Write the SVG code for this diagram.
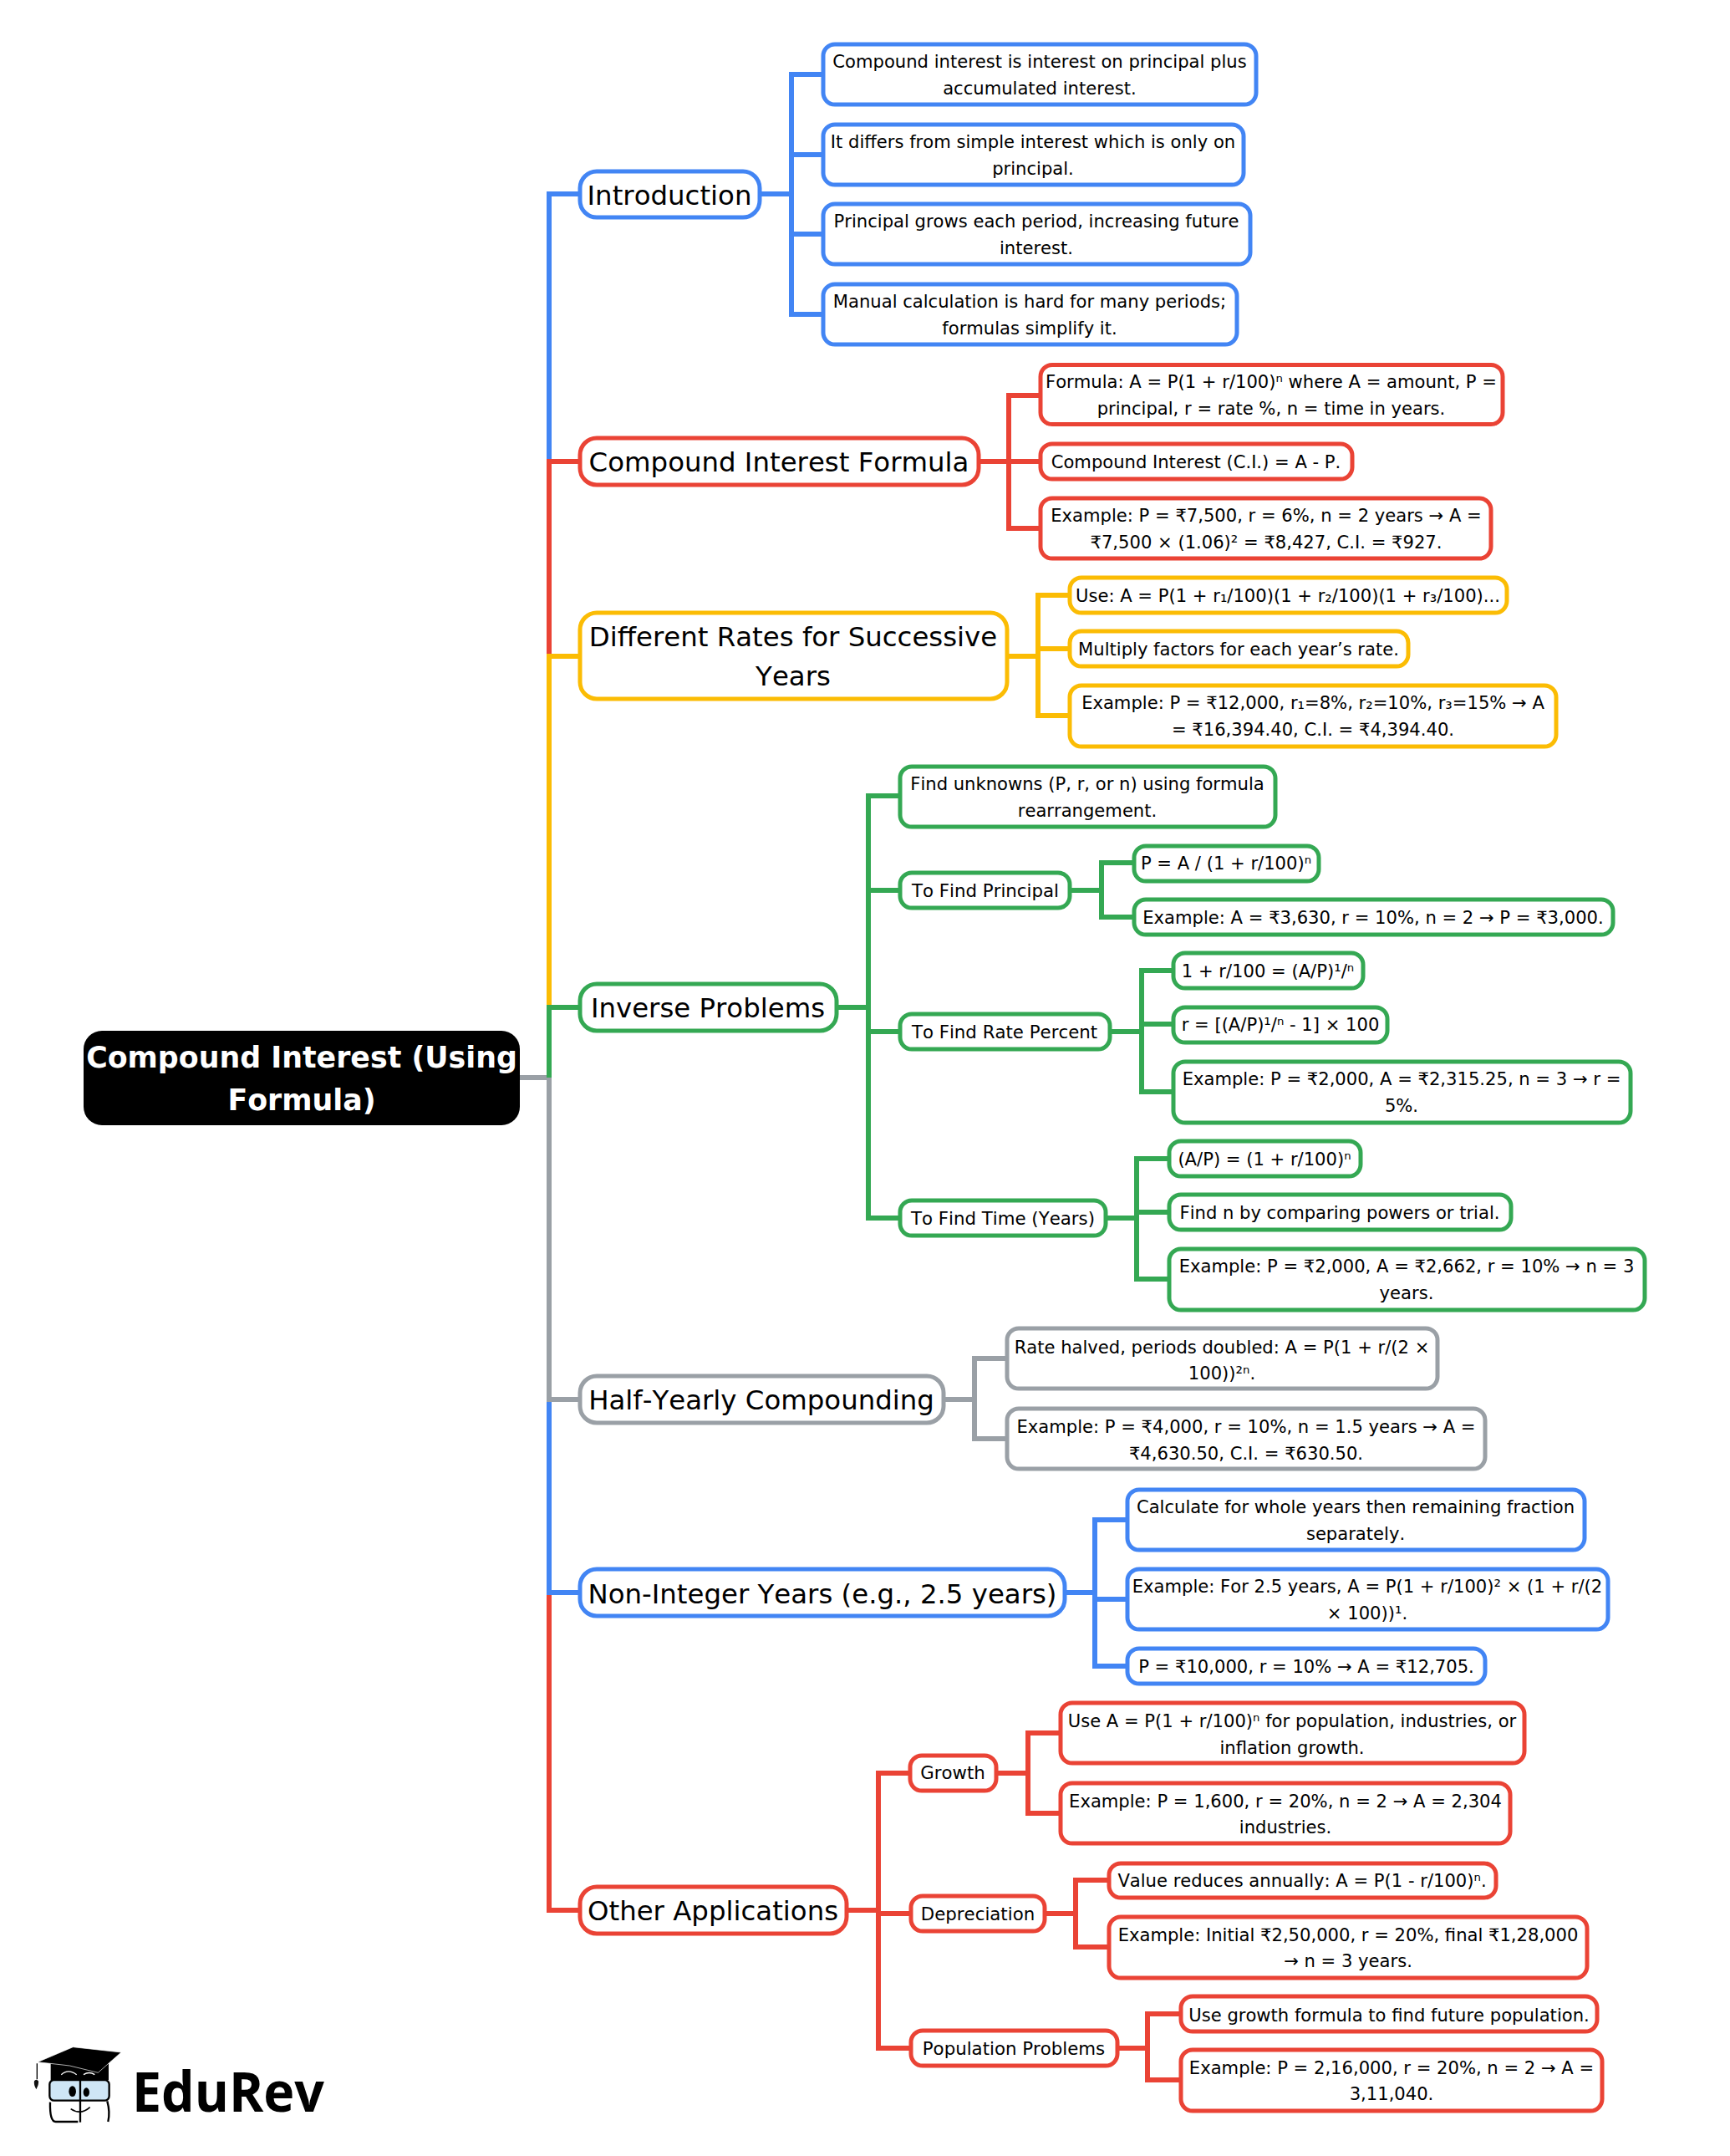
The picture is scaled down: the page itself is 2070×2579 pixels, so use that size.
<svg xmlns="http://www.w3.org/2000/svg" width="2070" height="2579" viewBox="0 0 2070 2579">
<style>
text{font-family:"DejaVu Sans",sans-serif;fill:#000;text-anchor:middle;font-kerning:none}
.r{fill:#fff;stroke-width:5}
.l1{font-size:32.4px}.l2{font-size:21.1px}.l3{font-size:21.3px}
.c{fill:none;stroke-width:6}
.b{stroke:#4285F4}.e{stroke:#EA4335}.y{stroke:#FBBC04}.g{stroke:#34A853}.n{stroke:#9AA0A6}
</style>
<rect width="2070" height="2579" fill="#fff"/>
<g id="connectors">
<path class="c e" d="M622 1289H657V2285H694"/>
<path class="c b" d="M657 1674V1905H694"/>
<path class="c b" d="M657 552V232H694"/>
<path class="c e" d="M657 785V552H694"/>
<path class="c y" d="M657 1205V785H694"/>
<path class="c n" d="M622 1289H657V1674H694"/>
<path class="c g" d="M657 1289V1205H694"/>
<path class="c b" d="M909 232H947M985 89H947V376H985M947 185H985M947 280H985"/>
<path class="c e" d="M1171 552H1207M1245 473H1207V632H1245M1207 552H1245"/>
<path class="c y" d="M1205 785H1242M1278 712H1242V856H1278M1242 776H1278"/>
<path class="c g" d="M1001 1205H1039M1075 952H1039V1457H1075M1039 1065H1075M1039 1234H1075"/>
<path class="c g" d="M1281 1065H1318M1355 1032H1318V1097H1355"/>
<path class="c g" d="M1328 1234H1366M1402 1161H1366V1306H1402M1366 1225H1402"/>
<path class="c g" d="M1323 1457H1360M1397 1386H1360V1530H1397M1360 1450H1397"/>
<path class="c n" d="M1129 1674H1166M1203 1625H1166V1721H1203"/>
<path class="c b" d="M1274 1905H1310M1347 1818H1310V1993H1347M1310 1913H1347"/>
<path class="c e" d="M1013 2285H1051M1088 2121H1051V2450H1088M1051 2289H1088"/>
<path class="c e" d="M1192 2121H1230M1267 2073H1230V2169H1267"/>
<path class="c e" d="M1250 2289H1287M1325 2249H1287V2329H1325"/>
<path class="c e" d="M1337 2450H1373M1411 2409H1373V2488H1411"/>
</g>
<g id="root"><rect x="100" y="1233" width="522" height="113" rx="22" fill="#000"/><text font-size="34.8" font-weight="700" style="fill:#fff" x="361" y="1277">Compound Interest (Using</text><text font-size="34.8" font-weight="700" style="fill:#fff" x="361" y="1328">Formula)</text></g>
<g id="n1"><rect class="r b" x="694" y="205" width="215" height="55" rx="20"/><text class="l1" x="801" y="244.5">Introduction</text></g>
<g id="n1a"><rect class="r b" x="985" y="53" width="518" height="72" rx="14"/><text class="l2" x="1244" y="81">Compound interest is interest on principal plus</text><text class="l2" x="1244" y="112.5">accumulated interest.</text></g>
<g id="n1b"><rect class="r b" x="985" y="149" width="503" height="72" rx="14"/><text class="l2" x="1236" y="177">It differs from simple interest which is only on</text><text class="l2" x="1236" y="208.5">principal.</text></g>
<g id="n1c"><rect class="r b" x="985" y="244" width="511" height="72" rx="14"/><text class="l2" x="1240" y="272">Principal grows each period, increasing future</text><text class="l2" x="1240" y="303.5">interest.</text></g>
<g id="n1d"><rect class="r b" x="985" y="340" width="495" height="72" rx="14"/><text class="l2" x="1232" y="368">Manual calculation is hard for many periods;</text><text class="l2" x="1232" y="399.5">formulas simplify it.</text></g>
<g id="n2"><rect class="r e" x="694" y="524" width="477" height="56" rx="20"/><text class="l1" x="932" y="564">Compound Interest Formula</text></g>
<g id="n2a"><rect class="r e" x="1245" y="436.5" width="553" height="71" rx="14"/><text class="l2" x="1521" y="464">Formula: A = P(1 + r/100)ⁿ where A = amount, P =</text><text class="l2" x="1521" y="495.5">principal, r = rate %, n = time in years.</text></g>
<g id="n2b"><rect class="r e" x="1245" y="531" width="373" height="42" rx="14"/><text class="l2" x="1431" y="560">Compound Interest (C.I.) = A - P.</text></g>
<g id="n2c"><rect class="r e" x="1245" y="596" width="539" height="72" rx="14"/><text class="l2" x="1515" y="624">Example: P = ₹7,500, r = 6%, n = 2 years → A =</text><text class="l2" x="1515" y="655.5">₹7,500 × (1.06)² = ₹8,427, C.I. = ₹927.</text></g>
<g id="n3"><rect class="r y" x="694" y="733" width="511" height="103" rx="20"/><text class="l1" x="949" y="773">Different Rates for Successive</text><text class="l1" x="949" y="819.5">Years</text></g>
<g id="n3a"><rect class="r y" x="1280" y="691" width="523" height="42" rx="14"/><text class="l2" x="1541" y="720">Use: A = P(1 + r₁/100)(1 + r₂/100)(1 + r₃/100)...</text></g>
<g id="n3b"><rect class="r y" x="1280" y="755" width="405" height="42" rx="14"/><text class="l2" x="1482" y="784">Multiply factors for each year’s rate.</text></g>
<g id="n3c"><rect class="r y" x="1280" y="820" width="582" height="73" rx="14"/><text class="l2" x="1571" y="848">Example: P = ₹12,000, r₁=8%, r₂=10%, r₃=15% → A</text><text class="l2" x="1571" y="879.5">= ₹16,394.40, C.I. = ₹4,394.40.</text></g>
<g id="n4"><rect class="r g" x="694" y="1177" width="307" height="56" rx="20"/><text class="l1" x="847" y="1217">Inverse Problems</text></g>
<g id="n4a"><rect class="r g" x="1077" y="917" width="449" height="72" rx="14"/><text class="l2" x="1301" y="945">Find unknowns (P, r, or n) using formula</text><text class="l2" x="1301" y="976.5">rearrangement.</text></g>
<g id="n4b"><rect class="r g" x="1077" y="1044" width="203" height="42" rx="14"/><text class="l3" x="1179" y="1072.5">To Find Principal</text></g>
<g id="n4b1"><rect class="r g" x="1357" y="1012" width="221" height="42" rx="14"/><text class="l2" x="1467" y="1039.5">P = A / (1 + r/100)ⁿ</text></g>
<g id="n4b2"><rect class="r g" x="1357" y="1076" width="573" height="42" rx="14"/><text class="l2" x="1643" y="1104.5">Example: A = ₹3,630, r = 10%, n = 2 → P = ₹3,000.</text></g>
<g id="n4c"><rect class="r g" x="1077" y="1213" width="251" height="42" rx="14"/><text class="l3" x="1202" y="1241.5">To Find Rate Percent</text></g>
<g id="n4c1"><rect class="r g" x="1404" y="1140" width="227" height="42" rx="14"/><text class="l2" x="1517" y="1168.5">1 + r/100 = (A/P)¹/ⁿ</text></g>
<g id="n4c2"><rect class="r g" x="1404" y="1205" width="256" height="42" rx="14"/><text class="l2" x="1532" y="1233">r = [(A/P)¹/ⁿ - 1] × 100</text></g>
<g id="n4c3"><rect class="r g" x="1404" y="1270" width="547" height="73" rx="14"/><text class="l2" x="1677" y="1298">Example: P = ₹2,000, A = ₹2,315.25, n = 3 → r =</text><text class="l2" x="1677" y="1329.5">5%.</text></g>
<g id="n4d"><rect class="r g" x="1077" y="1436" width="246" height="42" rx="14"/><text class="l3" x="1200" y="1465">To Find Time (Years)</text></g>
<g id="n4d1"><rect class="r g" x="1399" y="1365" width="229" height="42" rx="14"/><text class="l2" x="1513" y="1393.5">(A/P) = (1 + r/100)ⁿ</text></g>
<g id="n4d2"><rect class="r g" x="1399" y="1429" width="409" height="42" rx="14"/><text class="l2" x="1603" y="1458">Find n by comparing powers or trial.</text></g>
<g id="n4d3"><rect class="r g" x="1399" y="1494" width="569" height="73" rx="14"/><text class="l2" x="1683" y="1522">Example: P = ₹2,000, A = ₹2,662, r = 10% → n = 3</text><text class="l2" x="1683" y="1553.5">years.</text></g>
<g id="n5"><rect class="r n" x="694" y="1646" width="435" height="56" rx="20"/><text class="l1" x="911" y="1686">Half-Yearly Compounding</text></g>
<g id="n5a"><rect class="r n" x="1205" y="1589" width="515" height="72" rx="14"/><text class="l2" x="1462" y="1618.5">Rate halved, periods doubled: A = P(1 + r/(2 ×</text><text class="l2" x="1462" y="1649.5">100))²ⁿ.</text></g>
<g id="n5b"><rect class="r n" x="1205" y="1685" width="572" height="72" rx="14"/><text class="l2" x="1491" y="1714">Example: P = ₹4,000, r = 10%, n = 1.5 years → A =</text><text class="l2" x="1491" y="1745.5">₹4,630.50, C.I. = ₹630.50.</text></g>
<g id="n6"><rect class="r b" x="694" y="1877" width="580" height="56" rx="20"/><text class="l1" x="984" y="1917.5">Non-Integer Years (e.g., 2.5 years)</text></g>
<g id="n6a"><rect class="r b" x="1349" y="1782" width="547" height="72" rx="14"/><text class="l2" x="1622" y="1810">Calculate for whole years then remaining fraction</text><text class="l2" x="1622" y="1841.5">separately.</text></g>
<g id="n6b"><rect class="r b" x="1349" y="1877" width="575" height="72" rx="14"/><text class="l2" x="1636" y="1905">Example: For 2.5 years, A = P(1 + r/100)² × (1 + r/(2</text><text class="l2" x="1636" y="1936.5">× 100))¹.</text></g>
<g id="n6c"><rect class="r b" x="1349" y="1972" width="428" height="42" rx="14"/><text class="l2" x="1563" y="2000.5">P = ₹10,000, r = 10% → A = ₹12,705.</text></g>
<g id="n7"><rect class="r e" x="694" y="2257" width="319" height="56" rx="20"/><text class="l1" x="853" y="2297">Other Applications</text></g>
<g id="n7a"><rect class="r e" x="1089" y="2100" width="103" height="42" rx="14"/><text class="l3" x="1140" y="2128">Growth</text></g>
<g id="n7a1"><rect class="r e" x="1269" y="2037" width="555" height="72" rx="14"/><text class="l2" x="1546" y="2066">Use A = P(1 + r/100)ⁿ for population, industries, or</text><text class="l2" x="1546" y="2097.5">inflation growth.</text></g>
<g id="n7a2"><rect class="r e" x="1269" y="2133" width="538" height="72" rx="14"/><text class="l2" x="1538" y="2161.5">Example: P = 1,600, r = 20%, n = 2 → A = 2,304</text><text class="l2" x="1538" y="2193">industries.</text></g>
<g id="n7b"><rect class="r e" x="1090" y="2268" width="160" height="42" rx="14"/><text class="l3" x="1170" y="2296.5">Depreciation</text></g>
<g id="n7b1"><rect class="r e" x="1327" y="2229" width="463" height="41" rx="14"/><text class="l2" x="1558" y="2256.5">Value reduces annually: A = P(1 - r/100)ⁿ.</text></g>
<g id="n7b2"><rect class="r e" x="1327" y="2293" width="572" height="73" rx="14"/><text class="l2" x="1613" y="2321.5">Example: Initial ₹2,50,000, r = 20%, final ₹1,28,000</text><text class="l2" x="1613" y="2352.5">→ n = 3 years.</text></g>
<g id="n7c"><rect class="r e" x="1090" y="2429" width="247" height="42" rx="14"/><text class="l3" x="1213" y="2457.5">Population Problems</text></g>
<g id="n7c1"><rect class="r e" x="1413" y="2388" width="498" height="42" rx="14"/><text class="l2" x="1662" y="2417.5">Use growth formula to find future population.</text></g>
<g id="n7c2"><rect class="r e" x="1413" y="2452" width="504" height="73" rx="14"/><text class="l2" x="1665" y="2481">Example: P = 2,16,000, r = 20%, n = 2 → A =</text><text class="l2" x="1665" y="2512">3,11,040.</text></g>
<g id="logo">
<g transform="translate(0 2400) scale(.3333)">
<path d="M133 205V262" stroke="#000" stroke-width="4" fill="none"/>
<path d="M123 268Q130 258 138 268Q140 280 130 298Q120 280 123 268Z" fill="#111"/>
<path d="M182 205H390V264H182Z" fill="#000"/>
<path d="M135 200L262 146L435 165L352 238L250 213L180 205Z" fill="#000" stroke="#fff" stroke-width="2"/>
<path d="M220 245Q245 222 275 245M300 245Q320 232 340 245" stroke="#fff" stroke-width="4" fill="none"/>
<rect x="178" y="264" width="214" height="74" rx="16" fill="#cfe6f6" stroke="#000" stroke-width="7"/>
<path d="M180 344Q178 414 200 414H280M385 340Q396 380 388 414" stroke="#000" stroke-width="7" fill="none"/>
<path d="M288 255V416" stroke="#000" stroke-width="7"/>
<path d="M278 256H330" stroke="#000" stroke-width="6"/>
<ellipse cx="260" cy="305" rx="13" ry="19" fill="#000"/>
<ellipse cx="310" cy="308" rx="11" ry="16" fill="#000"/>
<path d="M254 368Q290 392 323 362" stroke="#000" stroke-width="5" fill="none"/>
</g>
<text x="158" y="2526" textLength="230" lengthAdjust="spacingAndGlyphs" style="text-anchor:start;font-family:'Open Sans',sans-serif;font-weight:700" font-size="67">EduRev</text>
</g>
</svg>
